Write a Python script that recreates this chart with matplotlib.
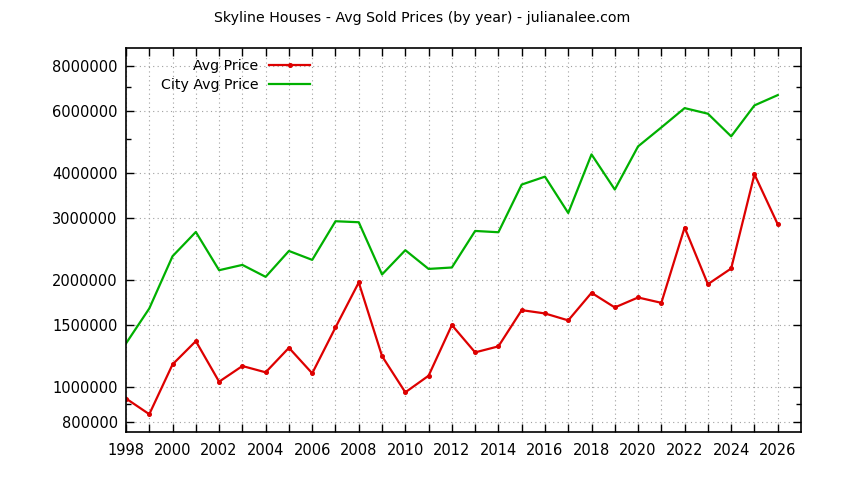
import matplotlib
matplotlib.use('Agg')
import matplotlib.pyplot as plt
from matplotlib.ticker import FixedLocator, FuncFormatter, NullFormatter

# --- data ---
years = list(range(1998, 2027))
avg_price = [930000, 840000, 1160000, 1349000, 1037000, 1148000, 1102000, 1292000,
             1095000, 1474000, 1973000, 1224000, 968000, 1078000, 1497000, 1254000,
             1304000, 1649000, 1614000, 1543000, 1845000, 1678000, 1790000, 1729000,
             2817000, 1951000, 2160000, 3977000, 2877000]
city_avg_price = [1329000, 1667000, 2339000, 2737000, 2136000, 2211000, 2046000, 2420000,
                  2284000, 2934000, 2915000, 2078000, 2432000, 2154000, 2174000, 2755000,
                  2732000, 3721000, 3917000, 3095000, 4525000, 3603000, 4766000, 5389000,
                  6108000, 5890000, 5086000, 6216000, 6645000]

y_major = [800000, 1000000, 1500000, 2000000, 3000000, 4000000, 6000000, 8000000]
y_minor = [900000, 5000000, 7000000]

title = "Skyline Houses - Avg Sold Prices (by year) - julianalee.com"

plt.rcParams['font.family'] = ['DejaVu Sans']
fs = 10.2

fig = plt.figure(figsize=(8.44, 4.8), dpi=100)
ax = fig.add_axes([126 / 844, 1 - 431.7 / 480, 675 / 844, 383.4 / 480])

ax.plot(years, avg_price, color='#dd0000', lw=1.6, marker='o', ms=2.6, label='Avg Price')
ax.plot(years, city_avg_price, color='#00b000', lw=1.6, label='City Avg Price')

ax.set_yscale('log')
ax.set_xlim(1998, 2027)
ax.set_ylim(750000, 9000000)

ax.yaxis.set_major_locator(FixedLocator(y_major))
ax.yaxis.set_major_formatter(FuncFormatter(lambda v, p: '%d' % round(v)))
ax.yaxis.set_minor_locator(FixedLocator(y_minor))
ax.yaxis.set_minor_formatter(NullFormatter())

ax.xaxis.set_major_locator(FixedLocator(years))
ax.xaxis.set_major_formatter(FuncFormatter(lambda v, p: '%d' % v if int(round(v)) % 2 == 0 else ''))

ax.tick_params(which='both', direction='in', top=True, right=True, labelsize=fs + 0.3, colors='black')
ax.tick_params(which='major', length=6, width=1)
ax.tick_params(which='minor', length=3.5, width=1)
ax.tick_params(axis='x', pad=8)
ax.tick_params(axis='y', pad=6)

ax.grid(True, which='major', color='#a0a0a0', linestyle=(0, (1, 3)), lw=0.8)
for s in ax.spines.values():
    s.set_linewidth(1.2)

ax.legend(loc='upper left', bbox_to_anchor=(161 / 844, 1 - 59 / 480),
          bbox_transform=fig.transFigure, frameon=False, markerfirst=False,
          fontsize=fs, handlelength=2.9, handletextpad=0.75, labelspacing=0.35,
          borderpad=0, borderaxespad=0)

fig.text(0.5, 1 - 18 / 480, title, ha='center', va='center', fontsize=fs)

fig.savefig('out.png', dpi=100)
